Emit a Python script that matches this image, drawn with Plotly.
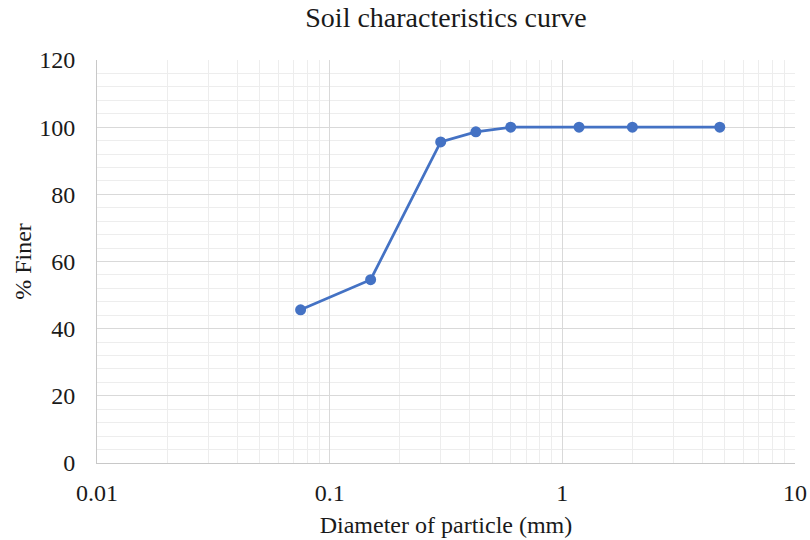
import plotly.graph_objects as go

diameter_mm = [0.075, 0.15, 0.3, 0.425, 0.6, 1.18, 2.0, 4.75]
percent_finer = [45.6, 54.6, 95.6, 98.6, 100, 100, 100, 100]
x_tick_vals = [0.01, 0.1, 1, 10]
x_tick_text = ["0.01", "0.1", "1", "10"]

fig = go.Figure()
fig.add_trace(go.Scatter(
    x=diameter_mm, y=percent_finer, mode="lines+markers",
    line=dict(color="#4472C4", width=2.75),
    marker=dict(color="#4472C4", size=11),
    showlegend=False,
))

font_family = "Liberation Serif, Times New Roman, serif"
fig.update_layout(
    width=810, height=540,
    margin=dict(l=97, r=15, t=60, b=77, autoexpand=False),
    paper_bgcolor="white", plot_bgcolor="white",
    font=dict(family=font_family, color="#1a1a1a"),
    title=dict(text="Soil characteristics curve", x=0.5, xanchor="center", xref="paper",
               y=1 - 17 / 540, yanchor="middle", font=dict(size=28, family=font_family, color="#1a1a1a")),
)
fig.update_xaxes(
    type="log", range=[-2, 1], automargin=False,
    tickvals=x_tick_vals, ticktext=x_tick_text,
    tickfont=dict(size=24, family=font_family),
    showgrid=True, gridcolor="#d9d9d9", gridwidth=1,
    minor=dict(showgrid=True, gridcolor="#ededed", gridwidth=1, dtick="D1"),
    showline=True, linecolor="#c8c8c8", linewidth=1, mirror=False,
    ticks="", ticklabelstandoff=8,
    title=dict(text="Diameter of particle (mm)", font=dict(size=24, family=font_family), standoff=11),
    zeroline=False,
)
fig.update_yaxes(
    range=[0, 120], dtick=20, automargin=False,
    tickfont=dict(size=24, family=font_family),
    showgrid=True, gridcolor="#d9d9d9", gridwidth=1,
    minor=dict(showgrid=True, gridcolor="#ededed", gridwidth=1, dtick=4),
    showline=True, linecolor="#c8c8c8", linewidth=1,
    ticks="", ticklabelstandoff=16,
    title=dict(text="% Finer", font=dict(size=24, family=font_family), standoff=0),
    zeroline=False,
)

fig.write_html("out.html")
